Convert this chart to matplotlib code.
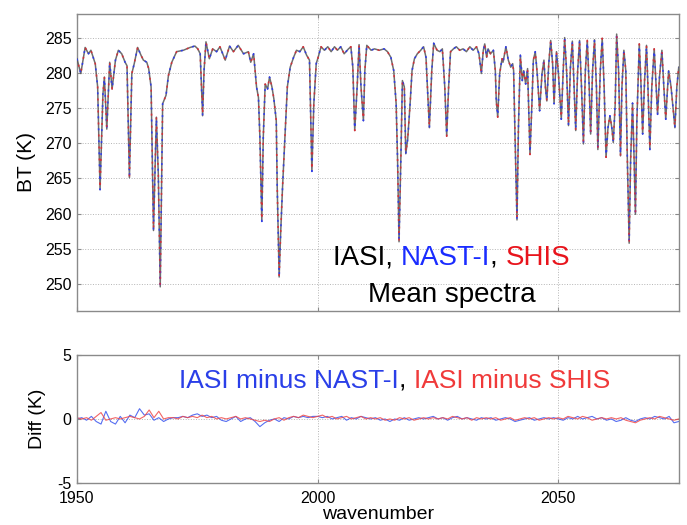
import matplotlib
matplotlib.use("Agg")
import matplotlib.pyplot as plt
from matplotlib.offsetbox import TextArea, HPacker, AnchoredOffsetbox

plt.rcParams['font.family'] = ['Liberation Sans', 'DejaVu Sans']
plt.rcParams['axes.unicode_minus'] = False

# ---------------- data ----------------
iasi_wn = [1950.0, 1950.8, 1951.7, 1952.4, 1952.9, 1953.8, 1954.3, 1954.8, 1955.4, 1955.7,
           1956.2, 1956.8, 1957.3, 1958.0, 1958.6, 1959.3, 1960.0, 1960.4, 1960.9, 1961.4,
           1961.9, 1962.6, 1963.3, 1963.8, 1964.5, 1964.9, 1965.4, 1965.9, 1966.5, 1966.9,
           1967.3, 1967.8, 1968.5, 1969.0, 1969.7, 1970.7, 1972.1, 1973.5, 1974.5,
           1975.1, 1975.6, 1976.1, 1976.4, 1976.8, 1977.5, 1978.2, 1979.0, 1979.7, 1980.8,
           1981.7, 1982.5, 1983.5, 1984.6, 1985.6, 1986.1, 1986.7, 1987.0, 1987.3, 1987.7,
           1988.0, 1988.4, 1988.7, 1989.1, 1989.6, 1990.0, 1990.5, 1990.9, 1991.4, 1991.6,
           1992.0, 1992.3, 1992.7, 1993.2, 1993.7, 1994.3, 1995.0, 1995.6, 1996.3, 1997.0,
           1997.7, 1998.3, 1998.6, 1998.8, 1999.2, 1999.7,
           2000.1, 2000.7, 2001.4, 2002.1, 2002.8, 2003.5, 2004.1, 2004.8, 2005.5, 2006.4,
           2006.9, 2007.3, 2007.7, 2008.2, 2008.6, 2009.0, 2009.5, 2009.8, 2010.2, 2011.1,
           2011.8, 2012.8, 2013.8, 2014.5, 2015.2, 2015.8, 2016.3, 2016.6, 2016.9, 2017.3,
           2017.6, 2018.0, 2018.3, 2018.7, 2019.2, 2019.6, 2020.1, 2020.7, 2021.4, 2022.0,
           2022.5, 2022.8, 2023.2, 2023.7, 2024.1, 2024.8,
           2025.4, 2025.9, 2026.4, 2026.8, 2027.2, 2027.6, 2028.2, 2028.8, 2029.5, 2030.2,
           2030.9, 2031.6, 2032.3, 2033.0, 2033.5, 2034.0, 2034.4, 2034.7, 2035.1, 2035.4,
           2035.9, 2036.5, 2036.9, 2037.1, 2037.4, 2037.8, 2038.3, 2038.5, 2039.1, 2039.6,
           2040.1, 2040.5, 2040.7, 2041.0, 2041.4, 2041.7, 2042.1, 2042.5, 2042.8, 2043.2,
           2043.6, 2044.1, 2044.5, 2044.8, 2045.2, 2045.6, 2046.1, 2046.6, 2047.0, 2047.3,
           2047.6, 2048.0, 2048.4, 2048.8, 2049.1, 2049.6,
           2050.0, 2050.6, 2051.0, 2051.3, 2051.7, 2052.1, 2052.5, 2052.9, 2053.2, 2053.6,
           2054.0, 2054.4, 2054.8, 2055.2, 2055.6, 2056.0, 2056.4, 2056.7, 2057.1, 2057.5,
           2057.9, 2058.2, 2058.7, 2059.1, 2059.5, 2059.9, 2060.3, 2060.7, 2061.1, 2061.4,
           2061.8, 2062.1, 2062.5, 2062.9, 2063.2, 2063.6, 2064.0, 2064.3, 2064.7, 2065.0,
           2065.4, 2065.7, 2066.0, 2066.3, 2066.8, 2067.1, 2067.5, 2067.9, 2068.3, 2068.6,
           2069.0, 2069.4, 2069.9, 2070.3, 2070.6, 2071.0, 2071.5, 2071.9, 2072.3, 2072.6,
           2072.9, 2073.4, 2073.8, 2074.2, 2074.6, 2075.0]
iasi_bt = [282.0, 279.9, 283.6, 282.7, 283.2, 281.3, 278.0, 263.4, 277.0, 279.4,
           272.0, 281.5, 277.7, 281.8, 283.2, 282.7, 281.5, 281.0, 265.1, 279.9,
           281.3, 283.6, 282.5, 281.8, 281.5, 280.6, 278.0, 257.6, 273.7, 265.6,
           249.6, 275.6, 276.8, 279.6, 281.5, 283.0, 283.2, 283.6, 283.8,
           283.4, 282.7, 273.9, 280.3, 284.4, 282.0, 283.4, 283.0, 283.7, 281.8,
           283.8, 283.0, 283.9, 282.7, 283.0, 281.5, 282.7, 280.3, 278.0, 276.5,
           270.8, 258.9, 270.8, 278.4, 277.7, 279.4, 278.0, 276.3, 273.2, 263.7,
           251.0, 257.0, 263.7, 270.8, 278.0, 280.8, 282.2, 283.2, 283.0, 283.7,
           282.5, 281.8, 272.2, 266.0, 275.6, 281.3,
           282.2, 283.7, 283.2, 283.7, 283.0, 283.7, 283.2, 283.7, 282.7, 283.4,
           283.7, 280.8, 271.8, 278.0, 284.0, 278.0, 273.2, 280.3, 283.9, 283.2,
           283.4, 283.2, 283.4, 283.0, 282.2, 280.3, 275.6, 267.5, 256.0, 268.5,
           278.9, 278.0, 268.5, 270.6, 275.6, 280.3, 282.0, 282.7, 283.2, 283.7,
           282.2, 278.0, 272.2, 280.3, 284.2, 283.2,
           283.0, 283.4, 278.0, 271.0, 278.0, 283.0, 283.4, 283.7, 283.2, 283.4,
           283.0, 283.7, 283.2, 283.7, 282.7, 279.9, 283.2, 284.1, 282.2, 283.4,
           282.7, 283.2, 280.3, 276.0, 273.7, 279.9, 282.0, 281.5, 283.7, 281.8,
           280.8, 281.3, 280.3, 270.8, 259.1, 272.2, 282.5, 278.9, 280.3, 278.4,
           280.6, 268.4, 275.6, 281.8, 283.0, 279.9, 274.6, 279.9, 281.8, 278.0,
           276.0, 281.3, 284.6, 281.3, 275.6, 283.0,
           280.0, 273.4, 280.3, 285.0, 280.3, 272.5, 280.8, 284.5, 278.9, 271.8,
           280.3, 284.6, 278.0, 269.9, 280.3, 284.6, 278.0, 271.3, 280.3, 284.7,
           278.0, 269.1, 280.3, 284.9, 278.0, 268.0, 272.2, 273.9, 272.2, 270.1,
           275.6, 285.5, 280.3, 268.2, 278.0, 283.2, 280.3, 268.4, 255.8, 267.5,
           275.7, 268.4, 259.9, 273.2, 284.1, 279.4, 271.3, 278.9, 283.9, 278.0,
           269.1, 278.0, 283.4, 278.0, 274.1, 279.4, 283.2, 278.0, 273.4, 277.0,
           280.3, 278.0, 275.1, 272.2, 278.0, 280.8]
# NAST-I and SHIS mean spectra coincide with IASI at the scale of the upper panel
nast_bt = list(iasi_bt)
shis_bt = list(iasi_bt)

diff_wn = list(range(1950, 2076))
diff_nast = [0.0, 0.1, -0.1, 0.2, -0.2, -0.4, 0.6, -0.2, -0.4, 0.2,
             -0.3, 0.3, 0.1, 0.8, 0.3, 0.4, -0.1, 0.1, -0.2, 0.0,
             0.1, 0.1, 0.2, 0.1, 0.3, 0.4, 0.2, 0.3, 0.1, 0.2,
             -0.1, -0.2, 0.0, 0.2, -0.2, 0.0, 0.1, -0.2, -0.6, -0.3,
             -0.1, 0.0, -0.2, 0.1, 0.0, 0.2, 0.1, 0.2, 0.1, 0.2,
             0.2, 0.1, 0.2, 0.0, 0.1, 0.2, -0.1, 0.1, 0.0, 0.2,
             0.1, 0.0, 0.1, -0.1, 0.0, -0.2, 0.0, -0.1, 0.1, -0.1,
             0.0, 0.1, 0.0, 0.1, 0.2, 0.0, 0.1, -0.1, 0.1, 0.2,
             0.0, 0.1, 0.0, -0.1, 0.1, 0.0, 0.1, -0.1, 0.0, 0.1,
             0.0, -0.2, -0.1, 0.0, 0.1, -0.1, 0.0, 0.1, 0.0, 0.1,
             0.0, -0.1, 0.1, 0.0, 0.2, 0.0, 0.1, 0.2, 0.0, 0.1,
             -0.1, 0.0, -0.2, -0.1, 0.1, -0.1, -0.2, 0.0, 0.1, 0.0,
             0.2, 0.1, 0.0, 0.2, -0.3, -0.2]
diff_shis = [0.1, 0.0, 0.1, -0.1, 0.2, 0.5, -0.1, 0.0, 0.1, 0.0,
             0.1, 0.2, 0.1, 0.0, 0.2, 0.7, 0.1, 0.6, 0.0, 0.1,
             0.1, 0.0, 0.2, 0.1, 0.2, 0.1, 0.3, 0.1, 0.2, 0.0,
             0.1, 0.0, 0.1, 0.2, 0.0, 0.1, 0.0, -0.1, -0.2, -0.1,
             -0.2, 0.0, 0.1, -0.1, 0.1, 0.2, 0.1, 0.3, 0.2, 0.1,
             0.2, 0.3, 0.1, 0.2, 0.0, 0.1, 0.2, 0.0, 0.1, 0.2,
             0.0, 0.1, 0.0, 0.1, -0.1, 0.0, -0.1, 0.1, 0.0, 0.1,
             -0.1, 0.0, 0.1, 0.0, 0.1, 0.0, 0.1, 0.0, 0.2, 0.1,
             0.0, 0.1, -0.1, 0.1, 0.0, 0.1, 0.0, 0.1, -0.1, 0.0,
             0.1, -0.1, 0.0, 0.1, 0.0, 0.1, -0.1, 0.0, 0.1, 0.0,
             0.1, 0.0, 0.2, 0.1, 0.0, 0.2, 0.1, -0.1, 0.0, 0.1,
             0.0, 0.1, 0.0, 0.1, -0.1, -0.2, -0.3, -0.1, 0.0, 0.1,
             0.0, 0.2, 0.1, 0.0, -0.1, 0.0]

top_yticks = [250, 255, 260, 265, 270, 275, 280, 285]
bot_yticks = [-5, 0, 5]
xticks = [1950, 2000, 2050]

# ---------------- figure ----------------
fig = plt.figure(figsize=(6.87, 5.25), dpi=100)
ax1 = fig.add_axes([0.112, 0.408, 0.876, 0.566])
ax2 = fig.add_axes([0.112, 0.080, 0.876, 0.244])

spine_c = '#8a8a8a'
for ax in (ax1, ax2):
    for s in ax.spines.values():
        s.set_color(spine_c)
        s.set_linewidth(1.0)
    ax.tick_params(direction='in', length=3, width=0.8, color=spine_c,
                   top=True, right=True, labelsize=11.5, pad=4)
    ax.grid(True, linestyle=':', color='#b5b5b5', linewidth=0.7)
    ax.set_xlim(1950, 2075)
    ax.set_xticks(xticks)

# upper panel: mean spectra
ax1.plot(iasi_wn, iasi_bt, color='#555555', lw=1.1, alpha=0.85, zorder=3)
ax1.plot(iasi_wn, nast_bt, color='#2030ff', lw=1.2, linestyle=(0, (1.2, 6)),
         alpha=0.8, zorder=4)
ax1.plot(iasi_wn, shis_bt, color='#e8202a', lw=1.2, linestyle=(3.5, (1.2, 6)),
         alpha=0.8, zorder=4)
ax1.set_ylim(246.2, 288.4)
ax1.set_yticks(top_yticks)
ax1.set_xticklabels([])
ax1.set_ylabel('BT (K)', fontsize=15, labelpad=6)

def color_text(ax, x, y, parts, fs):
    boxes = [TextArea(s, textprops=dict(color=c, fontsize=fs)) for s, c in parts]
    pack = HPacker(children=boxes, align='baseline', pad=0, sep=0)
    ab = AnchoredOffsetbox(loc='center', child=pack, pad=0, borderpad=0, frameon=False,
                           bbox_to_anchor=(x, y), bbox_transform=ax.transAxes)
    ax.add_artist(ab)

color_text(ax1, 0.623, 0.178, [('IASI, ', 'black'), ('NAST-I', '#1a2cff'),
                               (', ', 'black'), ('SHIS', '#e8141c')], 20)
ax1.text(0.623, 0.054, 'Mean spectra', transform=ax1.transAxes, ha='center', va='center',
         fontsize=20, color='black')

# lower panel: differences
ax2.plot(diff_wn, diff_nast, color='#3a55ee', lw=0.8, alpha=0.85)
ax2.plot(diff_wn, diff_shis, color='#f04a4a', lw=0.8, alpha=0.85)
ax2.set_ylim(-5, 5)
ax2.set_yticks(bot_yticks)
ax2.set_ylabel('Diff (K)', fontsize=14, labelpad=8)
ax2.set_xlabel('wavenumber', fontsize=14, labelpad=0)
ax2.tick_params(axis='x', pad=6)
color_text(ax2, 0.528, 0.80, [('IASI minus NAST-I', '#2a3fe8'), (', ', 'black'),
                              ('IASI minus SHIS', '#f03a3a')], 19)

fig.savefig('out.png', dpi=100)
